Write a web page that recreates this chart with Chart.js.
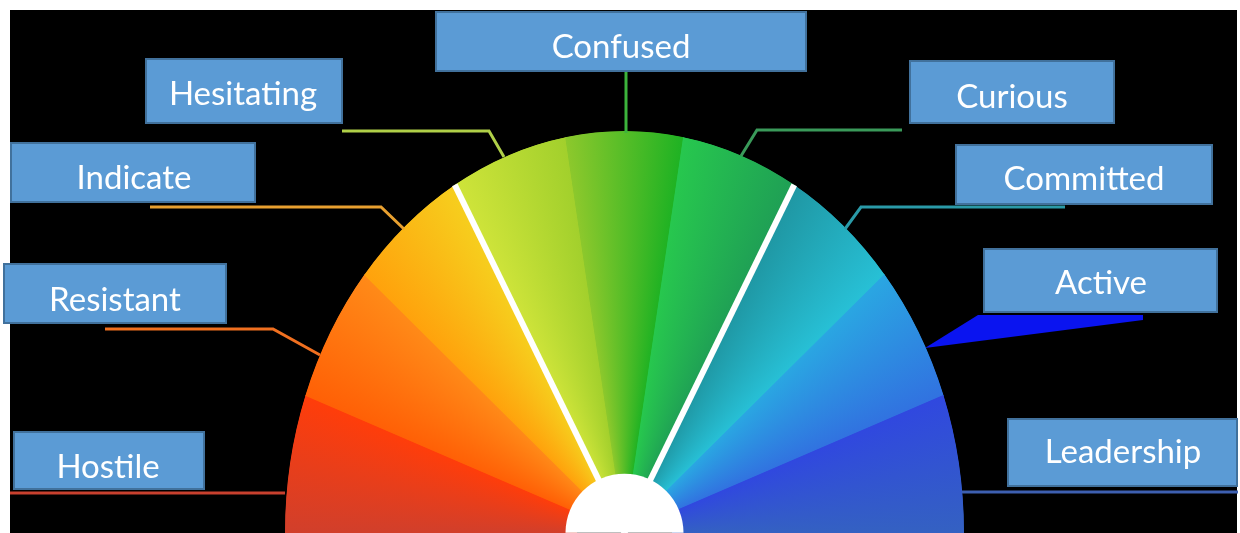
<!DOCTYPE html>
<html>
<head>
<meta charset="utf-8">
<script src="https://cdn.jsdelivr.net/npm/chart.js@4/dist/chart.umd.min.js"></script>
<style>
html,body{margin:0;padding:0;background:#fff;overflow:hidden}
canvas{display:block}
</style>
</head>
<body>
<canvas id="c" width="1240" height="533"></canvas>
<script>
// ---- data ----
const categories = ['Hostile','Resistant','Indicate','Hesitating','Confused','Curious','Committed','Active','Leadership'];
const values = [20,20,20,20,20,20,20,20,20];

// ---- styles ----
const colorsStart = ['#d13f2b','#ff6006','#ffa20c','#cfe43a','#8cc82c','#27c74e','#1f97a3','#2aa6e2','#3048df'];
const colorsEnd   = ['#ff3d0a','#ff8a18','#f6cf1e','#a2d02c','#1fb223','#1f9f55','#27c0d6','#3172e0','#3461c2'];
const leaderColors = ['#c8402e','#f07020','#e8a030','#b0d048','#3cb43c','#3a9a5a','#2a9aa8','#0a14f0','#3d5fb0'];
const groupBreaks = [3,6];          // white separators before these slices
const STRETCH = 1.183;              // vertical stretch of the gauge
const HUB_R = 59;

// ---- label layout (annotation positions) ----
const boxes = [
  [13,431,205,490],[3,263,227,324],[10,142,256,203],[145,58,343,124],
  [435,11,807,72],[909,60,1115,124],[955,144,1213,205],[983,248,1218,313],[1007,418,1238,487]
];
const textPos = [
  [108,478],[115,311],[134,189],[243,105],[621,58],[1012,108],[1084,190],[1101,294],[1123,463]
];
const leaders = [
  [[10,493],[285,493]],
  [[105,329],[273,329],[320,355]],
  [[150,207],[381,207],[404,229]],
  [[342,131],[489,131],[504,157]],
  [[626,72],[626,133]],
  [[902,130],[757,130],[741,156]],
  [[1065,207],[861,207],[845,229]],
  null,
  [[962,492],[1238,492]]
];
const activePoly = [[925,348],[978,315],[1143,315],[1143,320]];

function segFill(ctx){
  const chart = ctx.chart, i = ctx.dataIndex;
  const area = chart.chartArea;
  if (!area || i === undefined || !chart.ctx.createConicGradient) return colorsStart[i] || '#888';
  const ctrl = chart.getDatasetMeta(0).controller;
  const cx = (area.left+area.right)/2 + (ctrl.offsetX||0);
  const cy = (area.top+area.bottom)/2 + (ctrl.offsetY||0);
  const sum = values.reduce((a,b)=>a+b,0);
  const before = values.slice(0,i).reduce((a,b)=>a+b,0);
  const t0 = before/sum*0.5, t1 = (before+values[i])/sum*0.5;
  const g = chart.ctx.createConicGradient(Math.PI, cx, cy);
  g.addColorStop(0, colorsStart[i]);
  g.addColorStop(t0, colorsStart[i]);
  g.addColorStop(t1, colorsEnd[i]);
  g.addColorStop(1, colorsEnd[i]);
  return g;
}

const bgPlugin = {
  id:'bg',
  beforeDraw(chart){
    const c = chart.ctx;
    c.save();
    c.fillStyle = '#ffffff';
    c.fillRect(0,0,chart.width,chart.height);
    c.fillStyle = '#000000';
    c.fillRect(10,10,1227,523);
    c.restore();
  }
};

const gaugePlugin = {
  id:'gauge',
  beforeDatasetsDraw(chart){
    const el = chart.getDatasetMeta(0).data[0];
    const c = chart.ctx;
    c.save();
    c.translate(el.x, el.y);
    c.scale(1, STRETCH);
    c.translate(-el.x, -el.y);
  },
  afterDatasetsDraw(chart){
    const c = chart.ctx;
    c.restore();
    const meta = chart.getDatasetMeta(0);
    const el = meta.data[0];
    const cx = el.x, cy = el.y, R = el.outerRadius;
    // white group separators
    c.save();
    c.strokeStyle = '#ffffff';
    c.lineWidth = 6;
    groupBreaks.forEach(i => {
      const a = meta.data[i].startAngle;
      c.beginPath();
      c.moveTo(cx, cy);
      c.lineTo(cx + R*Math.cos(a), cy + R*STRETCH*Math.sin(a));
      c.stroke();
    });
    // hub
    c.beginPath();
    c.arc(cx, cy, HUB_R, Math.PI, 2*Math.PI);
    c.closePath();
    c.fillStyle = '#ffffff';
    c.fill();
    c.restore();
  },
  afterDraw(chart){
    const c = chart.ctx;
    c.save();
    // leader lines
    c.lineWidth = 3;
    c.lineJoin = 'miter';
    leaders.forEach((pts, i) => {
      if (!pts) return;
      c.strokeStyle = leaderColors[i];
      c.beginPath();
      pts.forEach((p, k) => k ? c.lineTo(p[0], p[1]) : c.moveTo(p[0], p[1]));
      c.stroke();
    });
    c.fillStyle = leaderColors[7];
    c.beginPath();
    activePoly.forEach((p, k) => k ? c.lineTo(p[0], p[1]) : c.moveTo(p[0], p[1]));
    c.closePath();
    c.fill();
    // boxes
    boxes.forEach((b, i) => {
      c.fillStyle = '#5b9bd5';
      c.fillRect(b[0], b[1], b[2]-b[0], b[3]-b[1]);
      c.strokeStyle = '#41719c';
      c.lineWidth = 2;
      c.strokeRect(b[0]+1, b[1]+1, b[2]-b[0]-2, b[3]-b[1]-2);
      c.fillStyle = '#ffffff';
      c.font = '33px Lato, "Open Sans", sans-serif';
      c.textAlign = 'center';
      c.textBaseline = 'alphabetic';
      c.fillText(categories[i], textPos[i][0], textPos[i][1]);
    });
    c.restore();
  }
};

new Chart(document.getElementById('c'), {
  type: 'doughnut',
  data: {
    labels: categories,
    datasets: [{
      data: values,
      backgroundColor: segFill,
      borderColor: segFill,
      borderWidth: 1,
      borderAlign: 'inner',
      hoverOffset: 0,
      clip: false
    }]
  },
  options: {
    responsive: false,
    animation: false,
    events: [],
    circumference: 180,
    rotation: -90,
    cutout: '14%',
    layout: { padding: { left: 285, right: 276, top: 193, bottom: 0 } },
    plugins: { legend: { display: false }, tooltip: { enabled: false } }
  },
  plugins: [bgPlugin, gaugePlugin]
});
</script>
</body>
</html>
